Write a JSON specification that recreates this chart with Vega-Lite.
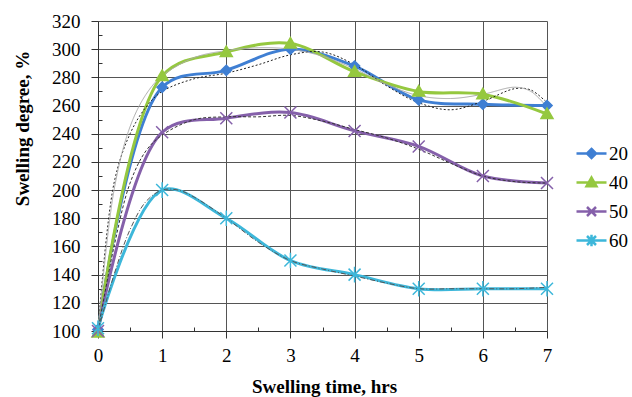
{
  "$schema": "https://vega.github.io/schema/vega-lite/v6.json",
  "width": 449,
  "height": 310,
  "autosize": {"type": "none"},
  "padding": {"left": 98, "top": 21, "right": 85, "bottom": 66},
  "background": "white",
  "config": {
    "view": {"stroke": null},
    "font": "Liberation Serif, DejaVu Serif, serif",
    "axis": {"labelFont": "Liberation Serif, DejaVu Serif, serif", "titleFont": "Liberation Serif, DejaVu Serif, serif"},
    "legend": {"labelFont": "Liberation Serif, DejaVu Serif, serif"},
    "style": {
      "guide-label": {"font": "Liberation Serif, DejaVu Serif, serif"},
      "guide-title": {"font": "Liberation Serif, DejaVu Serif, serif"}
    }
  },
  "datasets": {
    "main": [
      {"series": "20", "t": 0, "v": 101}, {"series": "20", "t": 1, "v": 273}, {"series": "20", "t": 2, "v": 285}, {"series": "20", "t": 3, "v": 300},
      {"series": "20", "t": 4, "v": 288}, {"series": "20", "t": 5, "v": 264}, {"series": "20", "t": 6, "v": 261}, {"series": "20", "t": 7, "v": 260},
      {"series": "40", "t": 0, "v": 99}, {"series": "40", "t": 1, "v": 281}, {"series": "40", "t": 2, "v": 298}, {"series": "40", "t": 3, "v": 304},
      {"series": "40", "t": 4, "v": 284}, {"series": "40", "t": 5, "v": 270}, {"series": "40", "t": 6, "v": 268}, {"series": "40", "t": 7, "v": 254},
      {"series": "50", "t": 0, "v": 100}, {"series": "50", "t": 1, "v": 241}, {"series": "50", "t": 2, "v": 251}, {"series": "50", "t": 3, "v": 255},
      {"series": "50", "t": 4, "v": 242}, {"series": "50", "t": 5, "v": 231}, {"series": "50", "t": 6, "v": 210}, {"series": "50", "t": 7, "v": 205},
      {"series": "60", "t": 0, "v": 102}, {"series": "60", "t": 1, "v": 200}, {"series": "60", "t": 2, "v": 180}, {"series": "60", "t": 3, "v": 150},
      {"series": "60", "t": 4, "v": 140}, {"series": "60", "t": 5, "v": 130}, {"series": "60", "t": 6, "v": 130}, {"series": "60", "t": 7, "v": 130}
    ],
    "trend": [
      {"trend": "20", "t": 0, "v": 100}, {"trend": "20", "t": 0.25, "v": 205}, {"trend": "20", "t": 0.5, "v": 240}, {"trend": "20", "t": 0.75, "v": 259},
      {"trend": "20", "t": 1, "v": 270}, {"trend": "20", "t": 1.5, "v": 279}, {"trend": "20", "t": 2, "v": 283}, {"trend": "20", "t": 2.5, "v": 289},
      {"trend": "20", "t": 3, "v": 296}, {"trend": "20", "t": 3.5, "v": 298}, {"trend": "20", "t": 4, "v": 289}, {"trend": "20", "t": 4.5, "v": 274},
      {"trend": "20", "t": 5, "v": 262}, {"trend": "20", "t": 5.5, "v": 257}, {"trend": "20", "t": 6, "v": 263}, {"trend": "20", "t": 6.5, "v": 272},
      {"trend": "20", "t": 6.75, "v": 271}, {"trend": "20", "t": 7, "v": 262},
      {"trend": "40", "t": 0, "v": 100}, {"trend": "40", "t": 0.25, "v": 200}, {"trend": "40", "t": 0.5, "v": 245}, {"trend": "40", "t": 0.75, "v": 268},
      {"trend": "40", "t": 1, "v": 281}, {"trend": "40", "t": 1.5, "v": 294}, {"trend": "40", "t": 2, "v": 299}, {"trend": "40", "t": 2.5, "v": 301},
      {"trend": "40", "t": 3, "v": 300}, {"trend": "40", "t": 3.5, "v": 295}, {"trend": "40", "t": 4, "v": 286}, {"trend": "40", "t": 4.5, "v": 275},
      {"trend": "40", "t": 5, "v": 267}, {"trend": "40", "t": 5.5, "v": 265}, {"trend": "40", "t": 6, "v": 268}, {"trend": "40", "t": 6.5, "v": 273},
      {"trend": "40", "t": 6.75, "v": 270}, {"trend": "40", "t": 7, "v": 259},
      {"trend": "50", "t": 0, "v": 100}, {"trend": "50", "t": 0.25, "v": 160}, {"trend": "50", "t": 0.5, "v": 205}, {"trend": "50", "t": 0.75, "v": 228},
      {"trend": "50", "t": 1, "v": 239}, {"trend": "50", "t": 1.5, "v": 250}, {"trend": "50", "t": 2, "v": 252}, {"trend": "50", "t": 2.5, "v": 252},
      {"trend": "50", "t": 3, "v": 253}, {"trend": "50", "t": 3.5, "v": 249}, {"trend": "50", "t": 4, "v": 243}, {"trend": "50", "t": 4.5, "v": 237},
      {"trend": "50", "t": 5, "v": 229}, {"trend": "50", "t": 5.5, "v": 219}, {"trend": "50", "t": 6, "v": 210}, {"trend": "50", "t": 6.5, "v": 206},
      {"trend": "50", "t": 7, "v": 205},
      {"trend": "60", "t": 0, "v": 100}, {"trend": "60", "t": 0.25, "v": 140}, {"trend": "60", "t": 0.5, "v": 172}, {"trend": "60", "t": 0.75, "v": 192},
      {"trend": "60", "t": 1, "v": 200}, {"trend": "60", "t": 1.25, "v": 200}, {"trend": "60", "t": 1.5, "v": 195}, {"trend": "60", "t": 2, "v": 180},
      {"trend": "60", "t": 2.5, "v": 163}, {"trend": "60", "t": 3, "v": 150}, {"trend": "60", "t": 3.5, "v": 144}, {"trend": "60", "t": 4, "v": 139},
      {"trend": "60", "t": 4.5, "v": 134}, {"trend": "60", "t": 5, "v": 130}, {"trend": "60", "t": 5.5, "v": 130}, {"trend": "60", "t": 6, "v": 130},
      {"trend": "60", "t": 6.5, "v": 130}, {"trend": "60", "t": 7, "v": 131}
    ]
  },
  "layer": [
    {
      "data": {"name": "main"},
      "mark": {"type": "line", "interpolate": "catmull-rom", "strokeWidth": 3},
      "encoding": {
        "x": {
          "field": "t", "type": "quantitative",
          "scale": {"domain": [0, 7], "nice": false, "zero": false},
          "axis": {
            "values": [0, 0.5, 1, 1.5, 2, 2.5, 3, 3.5, 4, 4.5, 5, 5.5, 6, 6.5, 7],
            "tickCount": 100,
            "labelExpr": "datum.value % 1 == 0 ? format(datum.value, 'd') : ''",
            "labelOverlap": false, "labelBound": false, "labelFlush": false,
            "grid": true,
            "gridOpacity": {"condition": {"test": "datum.value % 1 != 0", "value": 0}, "value": 1},
            "tickSize": {"condition": {"test": "datum.value % 1 != 0", "value": -4}, "value": 7},
            "labelPadding": 8,
            "labelFont": "Liberation Serif, DejaVu Serif, serif", "labelFontSize": 19, "labelColor": "black",
            "gridColor": "#555555", "domainColor": "#333333", "tickColor": "#333333",
            "title": "Swelling time, hrs",
            "titleFont": "Liberation Serif, DejaVu Serif, serif", "titleFontSize": 19, "titleFontWeight": "bold", "titleColor": "black",
            "titleX": 226, "titleY": 55, "titleAlign": "center", "titleBaseline": "middle"
          }
        },
        "y": {
          "field": "v", "type": "quantitative",
          "scale": {"domain": [100, 320], "nice": false, "zero": false},
          "axis": {
            "values": [100, 110, 120, 130, 140, 150, 160, 170, 180, 190, 200, 210, 220, 230, 240, 250, 260, 270, 280, 290, 300, 310, 320],
            "tickCount": 100,
            "labelExpr": "datum.value % 20 == 0 ? format(datum.value, 'd') : ''",
            "labelOverlap": false, "labelBound": false, "labelFlush": false,
            "grid": true,
            "gridOpacity": {"condition": {"test": "datum.value % 20 != 0", "value": 0}, "value": 1},
            "tickSize": {"condition": {"test": "datum.value % 20 != 0", "value": -4}, "value": 7},
            "labelPadding": 11,
            "labelFont": "Liberation Serif, DejaVu Serif, serif", "labelFontSize": 19, "labelColor": "black",
            "gridColor": "#555555", "domainColor": "#333333", "tickColor": "#333333",
            "title": "Swelling degree, %",
            "titleFont": "Liberation Serif, DejaVu Serif, serif", "titleFontSize": 19, "titleFontWeight": "bold", "titleColor": "black",
            "titleX": -76, "titleY": 107, "titleAngle": -90, "titleAlign": "center", "titleBaseline": "middle"
          }
        },
        "color": {
          "field": "series", "type": "nominal",
          "scale": {"domain": ["20", "40", "50", "60"], "range": ["#3f7fd3", "#95c83f", "#8560aa", "#3db7da"]},
          "legend": {
            "orient": "none", "legendX": 477, "legendY": 116, "title": null,
            "labelFont": "Liberation Serif, DejaVu Serif, serif", "labelFontSize": 19, "labelColor": "black",
            "symbolSize": 900, "labelOffset": 1, "rowPadding": 2,
            "encode": {
              "symbols": {
                "update": {
                  "shape": {"signal": "datum.value == '20' ? 'M-1,0H1M0,-0.3L0.3,0L0,0.3L-0.3,0Z' : datum.value == '40' ? 'M-1,0H1M0,-0.33L0.33,0.25L-0.33,0.25Z' : datum.value == '50' ? 'M-1,0H1M-0.3,-0.3L0.3,0.3M-0.3,0.3L0.3,-0.3' : 'M-1,0H1M-0.3,-0.3L0.3,0.3M-0.3,0.3L0.3,-0.3M0,-0.38V0.38'"},
                  "size": {"value": 900},
                  "fill": {"signal": "scale('color', datum.value)"},
                  "stroke": {"signal": "scale('color', datum.value)"},
                  "strokeWidth": {"value": 2.5},
                  "strokeDash": {"value": []},
                  "opacity": {"value": 1},
                  "fillOpacity": {"value": 1}
                }
              }
            }
          }
        }
      }
    },
    {
      "data": {"name": "trend"},
      "mark": {"type": "line", "interpolate": "catmull-rom", "strokeWidth": 1},
      "encoding": {
        "x": {"field": "t", "type": "quantitative"},
        "y": {"field": "v", "type": "quantitative"},
        "detail": {"field": "trend"},
        "stroke": {
          "field": "trend", "type": "nominal",
          "scale": {"domain": ["60", "50", "40", "20"], "range": ["#555555", "#333333", "#aaaaaa", "#222222"]},
          "legend": null
        },
        "strokeDash": {
          "field": "trend", "type": "nominal",
          "scale": {"domain": ["60", "50", "40", "20"], "range": [[5, 2, 1, 2], [3, 2], [1, 0], [2, 2]]},
          "legend": null
        }
      }
    },
    {
      "data": {"name": "main"},
      "transform": [{"calculate": "datum.series", "as": "marker"}],
      "mark": {"type": "point", "filled": true, "opacity": 1, "strokeWidth": 1.5, "size": 144},
      "encoding": {
        "x": {"field": "t", "type": "quantitative"},
        "y": {"field": "v", "type": "quantitative"},
        "shape": {
          "field": "marker", "type": "nominal",
          "scale": {"domain": ["50", "60", "20", "40"], "range": ["M-1,-1L1,1M-1,1L1,-1", "M-1,-1L1,1M-1,1L1,-1M0,-1.3V1.3", "M0,-0.85L0.85,0L0,0.85L-0.85,0Z", "M0,-1L1,0.75L-1,0.75Z"]},
          "legend": null
        },
        "fill": {
          "field": "marker", "type": "nominal",
          "scale": {"domain": ["40", "20", "60", "50"], "range": ["#95c83f", "#3f7fd3", "#3db7da", "#8560aa"]},
          "legend": null
        },
        "stroke": {
          "field": "marker", "type": "nominal",
          "scale": {"domain": ["20", "60", "50", "40"], "range": ["#3f7fd3", "#3db7da", "#8560aa", "#95c83f"]},
          "legend": null
        }
      }
    }
  ],
  "resolve": {"scale": {"stroke": "independent"}}
}
